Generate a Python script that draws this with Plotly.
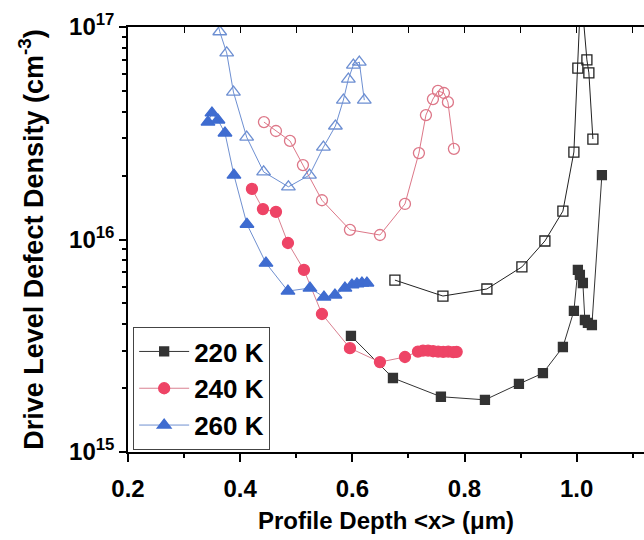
import plotly.graph_objects as go

# ---- data ----
# 220 K filled squares
x220 = [0.5975, 0.6724, 0.7579, 0.8364, 0.897, 0.9398, 0.9754, 0.995, 1.0021, 1.0057, 1.011, 1.0146, 1.02, 1.0271, 1.0449]
y220 = [3.52e15, 2.23e15, 1.82e15, 1.76e15, 2.09e15, 2.35e15, 3.12e15, 4.61e15, 7.19e15, 6.81e15, 6.24e15, 4.18e15, 4.05e15, 3.96e15, 2.01e16]
# 220 K open squares
x220o = [0.6759, 0.7615, 0.8399, 0.9023, 0.9433, 0.9754, 0.995, 1.0021, 1.0075, 1.0182, 1.0217, 1.0289]
y220o = [6.44e15, 5.42e15, 5.85e15, 7.43e15, 9.84e15, 1.36e16, 2.58e16, 6.41e16, 1.5e17, 7.0e16, 6.08e16, 2.97e16]
# 240 K filled circles
x240 = [0.421, 0.4406, 0.4638, 0.4852, 0.5137, 0.5458, 0.5957, 0.6492, 0.6938,
        0.717, 0.726, 0.735, 0.744, 0.753, 0.762, 0.771, 0.780, 0.786]
y240 = [1.73e16, 1.39e16, 1.35e16, 9.63e15, 7.19e15, 4.46e15, 3.08e15, 2.65e15, 2.8e15,
        2.97e15, 3.0e15, 3.0e15, 2.98e15, 2.97e15, 2.96e15, 2.97e15, 2.95e15, 2.96e15]
# 240 K open circles
x240o = [0.4424, 0.4638, 0.4888, 0.5119, 0.5458, 0.5957, 0.6492, 0.6938, 0.7187, 0.7312, 0.7437, 0.7526, 0.7633, 0.7704, 0.7811]
y240o = [3.57e16, 3.24e16, 2.91e16, 2.24e16, 1.53e16, 1.11e16, 1.05e16, 1.47e16, 2.55e16, 3.85e16, 4.58e16, 5.0e16, 4.89e16, 4.43e16, 2.67e16]
# 260 K filled triangles
x260 = [0.3426, 0.3497, 0.3604, 0.3729, 0.3889, 0.4121, 0.446, 0.4852, 0.5244, 0.5494, 0.569, 0.5868, 0.5993, 0.6082, 0.6171, 0.626]
y260 = [3.57e16, 3.94e16, 3.65e16, 3.17e16, 2.01e16, 1.18e16, 7.74e15, 5.72e15, 5.91e15, 5.36e15, 5.48e15, 5.91e15, 6.11e15, 6.18e15, 6.24e15, 6.24e15]
# 260 K open triangles
x260o = [0.358, 0.3636, 0.376, 0.388, 0.4116, 0.4418, 0.486, 0.5236, 0.5484, 0.5698, 0.584, 0.5929, 0.6018, 0.6124, 0.6213]
y260o = [1.1e17, 9.5e16, 7.55e16, 4.94e16, 3.03e16, 2.08e16, 1.77e16, 2.01e16, 2.72e16, 3.42e16, 4.53e16, 5.69e16, 6.62e16, 6.84e16, 4.53e16]

names = ["220 K", "240 K", "260 K"]
xticks = [0.2, 0.4, 0.6, 0.8, 1.0]
xminor = [0.3, 0.5, 0.7, 0.9, 1.1]
yticks = [1e15, 1e16, 1e17]
yticktext = ["10<sup>15</sup>", "10<sup>16</sup>", "10<sup>17</sup>"]
yminor = [m * 10 ** e for e in (15, 16) for m in range(2, 10)]

FONT = "Liberation Sans, Arial, sans-serif"
BLK = "#222222"
RED = "#EE4466"
PINK = "#DD7788"
BLUE = "#3F6CD0"
LBLUE = "#6D8FD2"

fig = go.Figure()

def add(x, y, name, color, line_color, symbol, size, fill, show):
    fig.add_trace(go.Scatter(
        x=x, y=y, name=name, mode="lines+markers", showlegend=show,
        line=dict(color=line_color, width=1),
        marker=dict(symbol=symbol, size=size, color=fill,
                    line=dict(color=color, width=1.3)),
        cliponaxis=True,
    ))

add(x220o, y220o, "220 K open", BLK, BLK, "square-open", 10, BLK, False)
add(x240o, y240o, "240 K open", PINK, PINK, "circle-open", 11, PINK, False)
add(x260o, y260o, "260 K open", LBLUE, LBLUE, "triangle-up-open", 12, LBLUE, False)
add(x220, y220, names[0], "#333333", "#333333", "square", 9, "#333333", True)
add(x240, y240, names[1], RED, "#D98090", "circle", 11, RED, True)
add(x260, y260, names[2], BLUE, "#7090D0", "triangle-up", 12, BLUE, True)

# invisible trace to carry the top (mirror) axis with inside ticks
fig.add_trace(go.Scatter(x=[0.2], y=[1e15], xaxis="x2", mode="markers",
                         marker=dict(opacity=0), showlegend=False, hoverinfo="skip"))

fig.update_layout(
    width=644, height=540,
    margin=dict(l=128, r=0, t=27, b=88),
    paper_bgcolor="white", plot_bgcolor="white",
    font=dict(family=FONT, size=22, color="black", weight="bold"),
    xaxis=dict(
        range=[0.2, 1.12], tickvals=xticks, ticktext=[f"{v:.1f}" for v in xticks],
        ticks="outside", ticklen=8, tickwidth=1.5, tickcolor="black",
        ticklabelstandoff=6,
        showline=True, linecolor="black", linewidth=1.5, showgrid=False, zeroline=False,
        minor=dict(tickvals=xminor, ticks="outside", ticklen=4, tickcolor="black", showgrid=False),
        title=dict(text="Profile Depth &lt;x&gt; (\u03bcm)", font=dict(size=24), standoff=12),
        tickfont=dict(size=24),
    ),
    xaxis2=dict(
        overlaying="x", side="top", matches="x", range=[0.2, 1.12],
        tickmode="linear", dtick=0.1, tick0=0.2, ticks="inside", ticklen=6,
        tickcolor="black", showticklabels=False, showline=True, linecolor="black",
        linewidth=1.5, showgrid=False, zeroline=False,
    ),
    yaxis=dict(
        type="log", range=[15, 17], tickvals=yticks, ticktext=yticktext,
        ticks="outside", ticklen=7, tickwidth=1.5, tickcolor="black",
        showline=True, linecolor="black", linewidth=1.5, showgrid=False, zeroline=False,
        minor=dict(tickvals=yminor, ticks="outside", ticklen=4, tickcolor="black", showgrid=False),
        title=dict(text="Drive Level Defect Density (cm<sup>-3</sup>)", font=dict(size=27), standoff=18),
        tickfont=dict(size=24),
    ),
    legend=dict(
        x=0.01, y=0.294, xanchor="left", yanchor="top",
        bgcolor="white", bordercolor="#444444", borderwidth=1,
        font=dict(size=26), itemwidth=50,
    ),
)

fig.write_html("out.html")
